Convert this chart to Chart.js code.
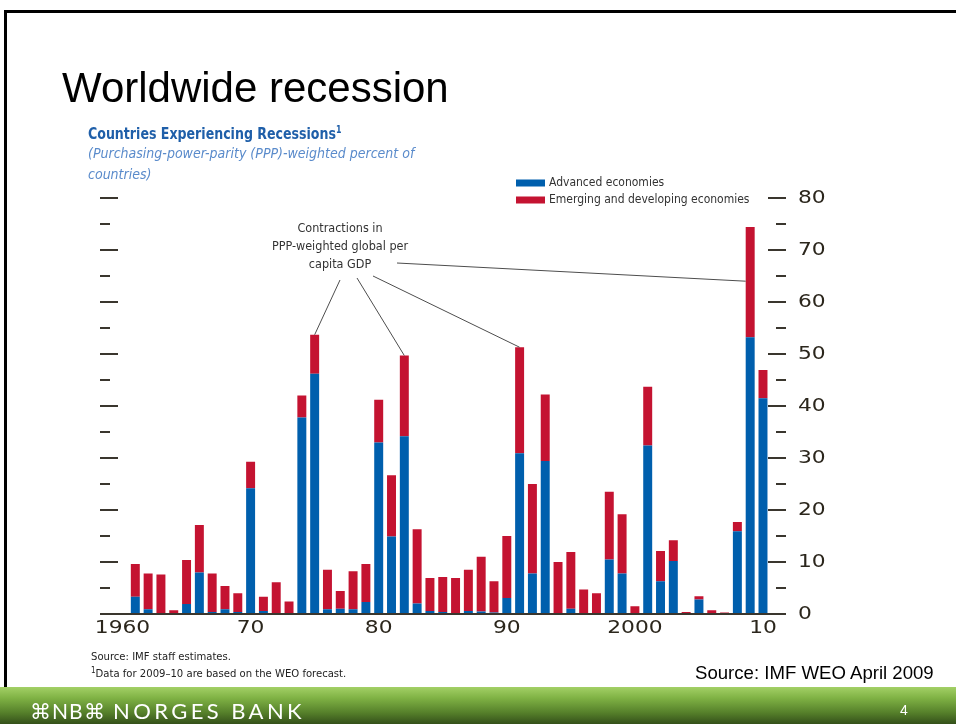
<!DOCTYPE html>
<html>
<head>
<meta charset="utf-8">
<script src="https://cdn.jsdelivr.net/npm/chart.js@4.4.1/dist/chart.umd.min.js"></script>
<style>
  html, body { margin: 0; padding: 0; background: #fff; }
  body { width: 956px; height: 724px; position: relative; overflow: hidden;
         font-family: "Liberation Sans", Arial, sans-serif; }
  #chart { position: absolute; left: 0; top: 0; }
  .t { position: absolute; white-space: nowrap; line-height: 1; }
  .narrow { font-family: "Liberation Sans Narrow", "DejaVu Sans Condensed", "Liberation Sans", sans-serif; }
  #frameTop { position: absolute; left: 4px; top: 10px; width: 952px; height: 3px; background: #000; }
  #frameLeft { position: absolute; left: 4px; top: 10px; width: 3px; height: 714px; background: #000; }
  #banner { position: absolute; left: 0; top: 687px; width: 956px; height: 37px;
            background: linear-gradient(#a3d066 0%, #7fb244 30%, #557f2a 70%, #34501a 100%); }
  #title { left: 62px; top: 67px; font-size: 42px; color: #000; }
  #sub1 { left: 88px; top: 125px; font-size: 16px; font-weight: bold; color: #1f5fa9;
          transform: scaleX(0.875); transform-origin: 0 0; }
  #sub1 sup { font-size: 10px; vertical-align: 6px; }
  .sub2 { left: 88px; font-size: 14px; font-style: italic; color: #5a8bcb; }
  .ann { font-size: 12.5px; color: #333; text-align: center; width: 200px; left: 240px; }
  .foot { left: 91px; font-size: 11.2px; color: #222; }
  .foot sup { font-size: 8px; vertical-align: 4px; }
  #src { left: 695px; top: 664px; font-size: 18.6px; color: #000; }
  #logo { left: 30px; top: 700px; font-size: 21px; color: #fff; letter-spacing: 1px;
          font-family: "Lato", "Open Sans", sans-serif; }
  #bank { left: 113px; top: 700px; font-size: 22px; color: #fff; letter-spacing: 3.4px;
          font-family: "Lato", "Open Sans", sans-serif; }
  #page { left: 900px; top: 703px; font-size: 14px; color: #fff; }
</style>
</head>
<body>
<div id="frameTop"></div>
<div id="frameLeft"></div>
<div id="banner"></div>
<canvas id="chart" width="956" height="724"></canvas>

<div class="t" id="title">Worldwide recession</div>
<div class="t narrow" id="sub1">Countries Experiencing Recessions<sup>1</sup></div>
<div class="t narrow sub2" style="top:146px">(Purchasing-power-parity (PPP)-weighted percent of</div>
<div class="t narrow sub2" style="top:167px">countries)</div>

<div class="t narrow ann" style="top:222px">Contractions in</div>
<div class="t narrow ann" style="top:240px">PPP-weighted global per</div>
<div class="t narrow ann" style="top:258px">capita GDP</div>

<div class="t narrow foot" style="top:651px">Source: IMF staff estimates.</div>
<div class="t narrow foot" style="top:667px"><sup>1</sup>Data for 2009–10 are based on the WEO forecast.</div>
<div class="t" id="src">Source: IMF WEO April 2009</div>
<div class="t" id="logo">⌘NB⌘</div>
<div class="t" id="bank">NORGES BANK</div>
<div class="t" id="page">4</div>

<script>
// Years shown on the category axis
const years = [
  '1960','1961','1962','1963','1964','1965','1966','1967','1968','1969',
  '1970','1971','1972','1973','1974','1975','1976','1977','1978','1979',
  '1980','1981','1982','1983','1984','1985','1986','1987','1988','1989',
  '1990','1991','1992','1993','1994','1995','1996','1997','1998','1999',
  '2000','2001','2002','2003','2004','2005','2006','2007','2008','2009','2010'
];

// PPP-weighted percent of countries in recession, advanced economies
const advanced = [
  null, 3.3, 0.9, 0, 0, 1.9, 8.0, 0.4, 0.9, 0.4,
  24.2, 0.6, 0, 0, 37.8, 46.2, 0.9, 1.0, 0.9, 2.3,
  33.0, 14.9, 34.2, 2.0, 0.6, 0.4, 0, 0.6, 0.5, 0.3,
  3.1, 30.9, 7.8, 29.4, 0, 1.0, 0, 0, 10.5, 7.8,
  0, 32.4, 6.3, 10.2, 0, 2.8, 0, 0, 15.9, 53.2, 41.5
];

// Same measure, emerging and developing economies (stacked on top)
const emerging = [
  null, 6.3, 6.9, 7.6, 0.7, 8.5, 9.1, 7.4, 4.5, 3.6,
  5.1, 2.7, 6.1, 2.4, 4.2, 7.5, 7.6, 3.4, 7.3, 7.3,
  8.2, 11.8, 15.5, 14.3, 6.3, 6.7, 6.9, 7.9, 10.5, 6.0,
  11.9, 20.4, 17.2, 12.8, 10.0, 10.9, 4.7, 4.0, 13.0, 11.4,
  1.5, 11.3, 5.8, 4.0, 0.4, 0.6, 0.7, 0.3, 1.8, 21.2, 5.4
];

// Axis marks and labels
const yTickValues = [0, 5, 10, 15, 20, 25, 30, 35, 40, 45, 50, 55, 60, 65, 70, 75, 80];
const yTickLabels = ['0', '10', '20', '30', '40', '50', '60', '70', '80'];
const xTickYears  = ['1960', '1970', '1980', '1990', '2000', '2010'];
const xTickLabels = ['1960', '70', '80', '90', '2000', '10'];

// Years pointed to by the "Contractions in PPP-weighted global per capita GDP" note
const contractionYears = ['1975', '1982', '1991', '2009'];

const BLUE = '#005fad';
const RED = '#c41331';
const INK = '#3a362e';

// Baseline, tick marks on both sides, axis labels, callout lines and legend
const decorPlugin = {
  id: 'decor',
  afterDatasetsDraw(chart) {
    const { ctx, scales: { x, y } } = chart;
    ctx.save();

    // tick marks
    ctx.fillStyle = INK;
    yTickValues.forEach(v => {
      const py = Math.round(y.getPixelForValue(v));
      const major = v % 10 === 0;
      ctx.fillRect(100, py - 1, major ? 18 : 10, 2);
      ctx.fillRect(major ? 768 : 776, py - 1, major ? 18 : 10, 2);
    });
    // baseline
    const y0 = Math.round(y.getPixelForValue(0));
    ctx.fillRect(100, y0 - 1, 686, 2);

    // wide numerals for axis labels
    ctx.fillStyle = '#2b261c';
    ctx.font = '17px "DejaVu Sans", sans-serif';
    ctx.textBaseline = 'middle';
    yTickLabels.forEach(lbl => {
      const py = y.getPixelForValue(Number(lbl));
      ctx.save();
      ctx.translate(798, py + 1);
      ctx.scale(1.28, 1);
      ctx.textAlign = 'left';
      ctx.fillText(lbl, 0, 0);
      ctx.restore();
    });
    xTickYears.forEach((yr, i) => {
      const px = x.getPixelForValue(years.indexOf(yr));
      ctx.save();
      ctx.translate(px, y0 + 15);
      ctx.scale(1.28, 1);
      ctx.textAlign = 'center';
      ctx.fillText(xTickLabels[i], 0, 0);
      ctx.restore();
    });

    // callout lines from the note to the bar tops
    const top = chart.getDatasetMeta(1).data;
    const starts = [[340, 280], [357, 278], [373, 276], [397, 263]];
    ctx.strokeStyle = '#4d4d4d';
    ctx.lineWidth = 1;
    contractionYears.forEach((yr, i) => {
      const bar = top[years.indexOf(yr)];
      let ex = bar.x, ey = bar.y;
      if (i === 3) { ex = bar.x - bar.width / 2; ey = y.getPixelForValue(64); }
      ctx.beginPath();
      ctx.moveTo(starts[i][0], starts[i][1]);
      ctx.lineTo(ex, ey);
      ctx.stroke();
    });

    // legend
    ctx.font = '12px "Liberation Sans Narrow", "DejaVu Sans Condensed", "Liberation Sans", sans-serif';
    ctx.textAlign = 'left';
    ctx.textBaseline = 'middle';
    chart.data.datasets.forEach((ds, i) => {
      const ly = 183 + i * 17;
      ctx.fillStyle = ds.backgroundColor;
      ctx.fillRect(516, ly - 3.5, 29, 7);
      ctx.fillStyle = '#333';
      ctx.fillText(ds.label, 549, ly);
    });
    ctx.restore();
  }
};

new Chart(document.getElementById('chart'), {
  type: 'bar',
  data: {
    labels: years,
    datasets: [
      { label: 'Advanced economies', data: advanced, backgroundColor: BLUE,
        barPercentage: 0.7, categoryPercentage: 1.0 },
      { label: 'Emerging and developing economies', data: emerging, backgroundColor: RED,
        barPercentage: 0.7, categoryPercentage: 1.0 }
    ]
  },
  options: {
    responsive: false,
    animation: false,
    devicePixelRatio: 1,
    layout: { padding: { left: 116.1, right: 186.6, top: 198, bottom: 110 } },
    plugins: { legend: { display: false }, tooltip: { enabled: false } },
    scales: {
      x: { stacked: true, display: false, offset: true },
      y: { stacked: true, display: false, min: 0, max: 80 }
    }
  },
  plugins: [decorPlugin]
});
</script>
</body>
</html>
